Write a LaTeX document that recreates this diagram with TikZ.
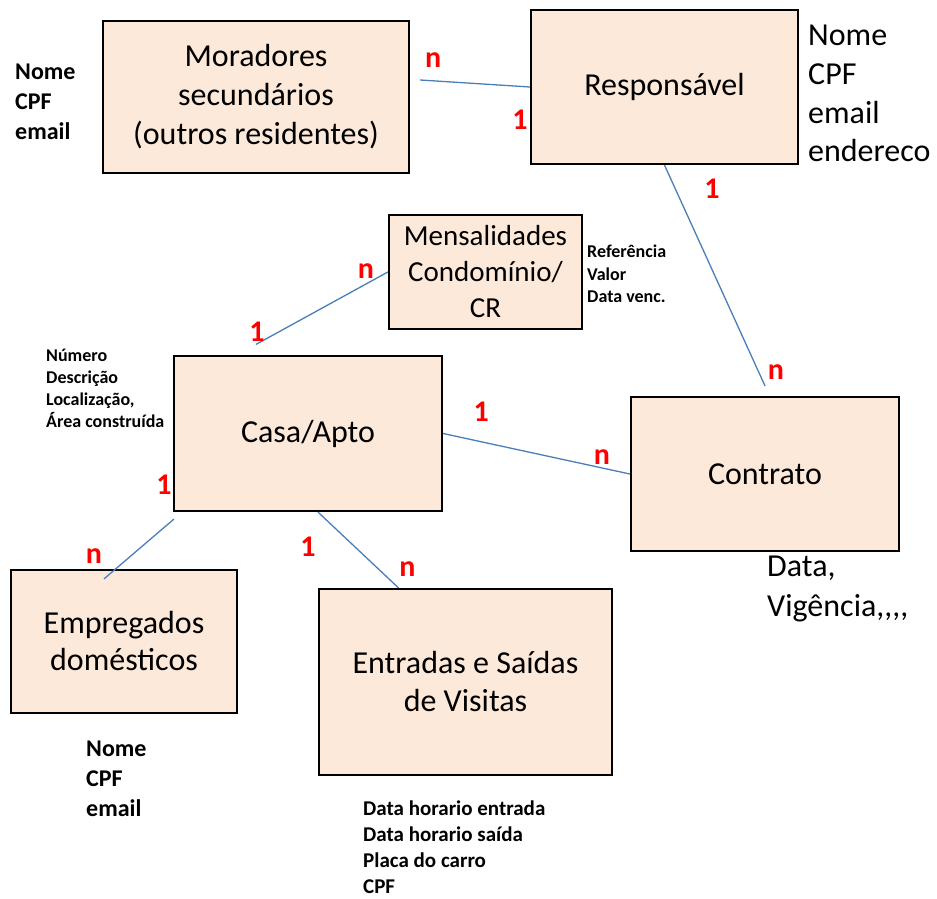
\documentclass[tikz,border=0pt]{standalone}
\usepackage{fontspec}
\setmainfont{Carlito}
\usepackage{tikz}
\usetikzlibrary{calc}
\definecolor{boxFill}{HTML}{FDE9D9}
\definecolor{relBlue}{HTML}{4A7EBB}

\begin{document}
\begin{tikzpicture}[x=1pt,y=1pt,
entity/.style={
draw=black,
fill=boxFill,
line width=2.2pt,
inner sep=0pt,
align=center,
font=\fontsize{32}{39}\selectfont,
},
attr/.style={anchor=base west, inner sep=0pt, align=left},
card/.style={text=red, font=\bfseries\fontsize{30}{32}\selectfont, inner sep=0pt},
rel/.style={draw=relBlue, line width=1.3pt}
]
\useasboundingbox (0,0) rectangle (937,898);

% entidades
\node [entity, minimum width=306pt, minimum height=152pt] (moradores) at (256,801) {Moradores\\secundários\\(outros residentes)};
\node [entity, minimum width=267pt, minimum height=154pt] (responsavel) at (664.5,811) {Responsável};
\node [entity, minimum width=193pt, minimum height=114pt, font=\fontsize{29}{36}\selectfont] (mensalidades) at (485.5,626) {Mensalidades\\Condomínio/\\CR};
\node [entity, minimum width=268pt, minimum height=155pt] (casa) at (308,464.5) {Casa/Apto};
\node [entity, minimum width=268pt, minimum height=154pt] (contrato) at (765,424) {Contrato};
\node [entity, minimum width=226pt, minimum height=143pt, font=\fontsize{32}{37}\selectfont] (empregados) at (124,256.5) {Empregados\\domésticos};
\node [entity, minimum width=293pt, minimum height=186pt, font=\fontsize{32}{38}\selectfont] (entradas) at (465.5,216) {Entradas e Saídas\\de Visitas};

% atributos (base = ultima linha)
\node [attr, font=\bfseries\fontsize{24}{30}\selectfont] (attrMoradores) at (15,758) {Nome\\CPF\\email};
\node [attr, font=\fontsize{32}{38.7}\selectfont] (attrResponsavel) at (808,736) {Nome\\CPF\\email\\endereco};
\node [attr, font=\bfseries\fontsize{18}{22.5}\selectfont] (attrMensalidades) at (587,595) {Referência\\Valor\\Data venc.};
\node [attr, font=\bfseries\fontsize{18}{22}\selectfont] (attrCasa) at (46,470) {Número\\Descrição\\Localização,\\Área construída};
\node [attr, font=\fontsize{32}{40}\selectfont] (attrContrato) at (767,282) {Data,\\Vigência{,}{,}{,}{,}};
\node [attr, font=\bfseries\fontsize{24}{30}\selectfont] (attrEmpregados) at (86,82) {Nome\\CPF\\email};
\node [attr, font=\bfseries\fontsize{21}{26}\selectfont] (attrEntradas) at (363,5) {Data horario entrada\\Data horario saída\\Placa do carro\\CPF};

% relacionamentos
\draw [rel] ([shift={(10,17)}]moradores.east) node[card,shift={(13,20)}] {n} -- (responsavel.west) node[card,shift={(-10,-33)}] {1};
\draw [rel] (responsavel.south) node[card,shift={(47.5,-24)}] {1} -- ([yshift=10pt]contrato.north) node[card,shift={(11,14)}] {n};
\draw [rel] (mensalidades.west) node[card,shift={(-22,1)}] {n} -- ([shift={(-52,10.5)}]casa.north) node[card,shift={(1,13)}] {1};
\draw [rel] (casa.east) node[card,shift={(38,21.5)}] {1} -- (contrato.west) node[card,shift={(-28,17)}] {n};
\draw [rel] ([shift={(1,-7)}]casa.south west) node[card,shift={(-10,34)}] {1} -- ([shift={(-20,-10)}]empregados.north) node[card,shift={(-10,23)}] {n};
\draw [rel] ([xshift=10pt]casa.south) node[card,shift={(-10,-35)}] {1} -- ([xshift=-67pt]entradas.north) node[card,shift={(9,19)}] {n};
\end{tikzpicture}
\end{document}
